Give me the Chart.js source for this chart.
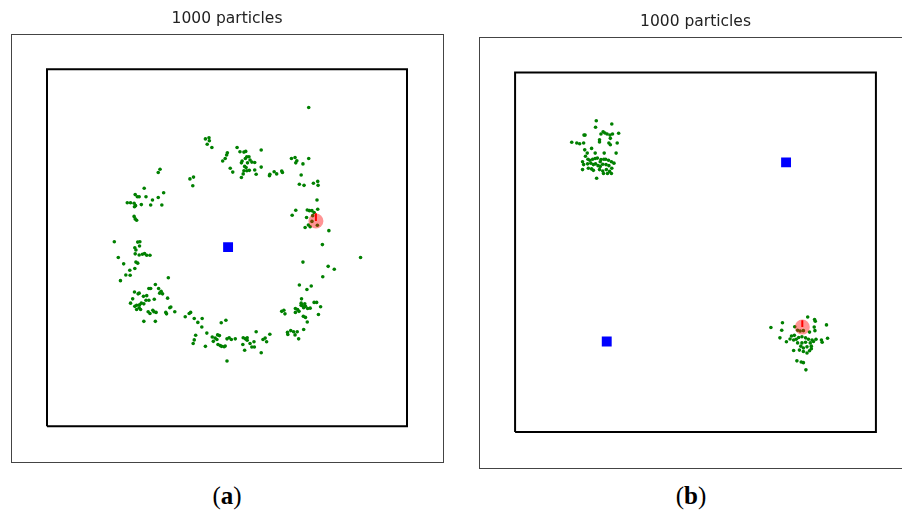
<!DOCTYPE html>
<html lang="en">
<head>
<meta charset="UTF-8">
<title>1000 particles</title>
<script src="https://cdn.jsdelivr.net/npm/chart.js@4/dist/chart.umd.min.js"></script>
<style>
    body { margin: 0; background: #fff; overflow: hidden; width: 902px; height: 513px; position: relative; }
    canvas { position: absolute; }
    #chartA { left: 0px; top: 0px; }
    #chartB { left: 467px; top: 0px; }
    .caption { position: absolute; top: 482px; width: 80px; text-align: center; font-family: "Liberation Serif", "DejaVu Serif", serif; font-size: 25px; color: #000; }
</style>
</head>
<body>
<canvas id="chartA" width="455" height="475"></canvas>
<canvas id="chartB" width="460" height="480"></canvas>
<div class="caption" style="left: 187px;">(<b>a</b>)</div>
<div class="caption" style="left: 651px;">(<b>b</b>)</div>

<script type="text/javascript">
// room walls (metres), same for both panels
var roomX = [0, 10, 10, 0, 0];
var roomY = [0, 0, 10, 10, 0];
var axisMin = -1;
var axisMax = 11;
var titleText = "1000 particles";

// panel (a): one beacon, particles spread on a ring
var beaconsA = [[5.03, 5.02]];
var robotA = [[7.47, 5.75]];
var headingA = [[7.47, 5.75], [7.47, 5.97]];
var particlesA = [
    [7.27,8.93],[4.40,8.05],[4.50,8.08],[4.51,8.00],[4.45,7.90],[4.58,7.81],
    [5.28,7.81],[5.36,7.69],[5.47,7.68],[5.52,7.70],[5.95,7.74],[5.01,7.66],[4.99,7.60],[4.95,7.50],[4.88,7.43],
    [5.09,7.23],[5.16,7.12],[5.40,7.38],[5.42,7.43],[5.51,7.50],[5.55,7.55],[5.61,7.55],[5.64,7.46],[5.57,7.38],
    [5.69,7.40],[5.77,7.39],[5.49,7.28],[5.53,7.25],[5.47,7.16],[5.55,7.16],[5.62,7.17],[5.77,7.18],[5.81,7.06],
    [5.95,7.26],[5.40,6.97],[5.45,7.07],[6.19,7.06],[6.18,7.02],[6.31,7.13],[6.38,7.07],[6.52,7.15],[6.54,7.11],
    [6.79,7.50],[6.89,7.53],[6.94,7.44],[6.91,7.38],[7.11,7.35],[7.27,7.50],[7.06,7.04],[7.01,6.78],[7.14,6.75],
    [7.40,6.81],[7.52,6.86],[7.53,6.75],
    [7.50,6.34],[7.52,6.08],[7.23,6.06],[7.29,6.04],[7.36,6.04],[6.91,6.05],[6.81,5.91],[7.21,5.85],[7.36,5.74],
    [7.38,5.90],[7.51,5.63],[7.31,5.59],[7.17,5.57],[7.26,5.64],[7.83,5.48],[7.42,5.99],[7.65,5.09],[7.11,4.60],
    [7.81,4.48],[7.98,4.40],[8.71,4.73],
    [3.09,7.11],[3.14,7.20],[2.70,6.67],[2.45,6.49],[2.51,6.43],[2.56,6.43],[2.75,6.43],[2.93,6.34],[3.09,6.41],
    [3.24,6.54],[2.23,6.26],[2.32,6.26],[2.42,6.25],[2.46,6.18],[2.43,6.15],[2.62,6.21],[2.88,6.20],[3.19,6.20],
    [2.42,5.88],[2.45,5.81],[2.49,5.77],
    [1.87,5.17],[1.98,4.73],[2.13,4.55],[2.52,5.16],[2.58,5.17],[2.57,5.05],[2.44,5.00],[2.47,4.94],[2.45,4.83],
    [2.56,4.80],[2.65,4.82],[2.71,4.84],[2.77,4.79],[2.86,4.79],[2.47,4.60],[2.52,4.57],[2.44,4.42],
    [3.97,6.93],[4.07,6.98],[4.05,6.74],
    [2.30,4.37],[2.19,4.24],[2.31,4.23],[2.04,4.08],[3.37,4.16],[7.66,4.19],
    [2.43,3.76],[2.56,3.73],[2.53,3.71],[2.83,3.86],[2.88,3.86],[3.01,3.97],[3.10,3.86],[3.17,3.78],[3.13,3.73],
    [3.21,3.71],[2.68,3.64],[2.77,3.66],[2.75,3.53],[2.83,3.53],[2.38,3.57],[2.32,3.45],[2.44,3.36],[2.49,3.39],
    [2.57,3.40],[2.62,3.45],[2.69,3.43],[2.56,3.32],[2.49,3.27],[2.60,3.27],[2.98,3.56],[3.35,3.59],[2.81,3.21],
    [2.94,3.25],[2.97,3.21],[2.86,3.16],[3.03,3.19],[3.30,3.19],[3.32,3.15],[3.41,3.32],[3.44,3.34],[3.55,3.21],
    [2.69,2.94],[3.01,2.94],
    [3.84,3.07],[3.95,3.16],[3.99,3.19],[4.09,3.02],[4.19,2.91],[4.31,3.02],[4.30,2.78],[4.44,2.61],[4.13,2.55],
    [4.09,2.42],[4.06,2.32],[4.40,2.24],[4.84,2.90],[4.97,2.97],[4.59,2.50],[4.67,2.47],[4.62,2.38],[4.72,2.43],
    [4.74,2.56],[4.79,2.54],[4.75,2.29],[4.81,2.26],[4.85,2.24],[4.92,2.23],[4.95,2.25],[5.00,2.45],[5.06,2.48],
    [5.12,2.43],[5.23,2.45],[5.00,1.83],[5.45,2.48],[5.51,2.45],[5.56,2.48],[5.56,2.41],[5.44,2.29],[5.49,2.13],
    [5.64,2.32],[5.69,2.22],[5.75,2.37],[5.76,2.22],[5.81,2.65],[6.00,2.43],[6.06,2.47],[6.19,2.58],[6.10,2.37],
    [5.95,2.06],
    [6.52,3.22],[6.58,3.25],[6.61,3.15],[6.68,2.63],[6.69,2.57],[6.77,2.68],[6.85,2.65],[6.89,2.56],[6.95,2.65],
    [6.99,2.45],[7.13,2.71],[6.90,3.30],[6.90,3.19],[7.01,3.96],[7.07,3.57],[7.06,3.45],[7.06,3.39],[7.09,3.38],
    [7.13,3.32],[7.18,3.36],[7.16,3.43],[7.24,3.30],[7.31,3.31],[7.22,3.83],[7.34,3.93],[7.42,3.47],[7.49,3.47],
    [6.96,3.27],[7.00,3.22],[7.12,3.08],[7.18,3.05],[7.23,2.92],[7.54,3.13],[7.60,3.35]
];

// panel (b): two beacons, particles in two clusters
var beaconsB = [[7.51, 7.50], [2.54, 2.52]];
var robotB = [[7.96, 2.92]];
var headingB = [[7.96, 2.92], [7.96, 3.11]];
var particlesB = [
    [2.25,8.66],[2.68,8.57],[2.23,8.48],[2.44,8.35],[2.49,8.32],[2.55,8.29],[2.63,8.26],[2.70,8.29],[2.87,8.31],
    [1.91,8.26],[1.94,8.26],[2.38,8.29],[2.34,8.13],[2.34,8.07],[2.64,8.17],[2.60,8.04],[2.64,7.99],[2.83,8.04],
    [1.57,8.06],[1.71,8.04],[1.79,8.02],[1.90,8.04],[2.12,7.89],[1.93,7.85],[2.00,7.76],[2.22,7.76],[2.47,7.76],
    [2.80,7.76],[1.95,7.67],[2.02,7.59],[2.07,7.56],[2.15,7.59],[2.22,7.61],[2.28,7.62],[2.38,7.58],[2.46,7.59],
    [2.51,7.59],[2.59,7.56],[2.67,7.52],[2.74,7.48],[1.87,7.52],[1.90,7.44],[2.01,7.46],[2.10,7.48],[2.17,7.44],
    [2.23,7.46],[2.30,7.41],[2.36,7.52],[2.43,7.45],[2.52,7.44],[2.60,7.41],[2.68,7.34],[2.03,7.34],[2.12,7.32],
    [2.34,7.30],[2.43,7.26],[2.53,7.30],[2.62,7.25],[2.67,7.19],[1.87,7.30],[2.45,7.19],[2.26,7.06],[2.56,7.19],
    [2.36,7.39],[2.17,7.28],
    [8.11,3.20],[8.30,3.13],[8.32,3.08],[7.41,3.04],[8.63,2.98],[7.09,2.91],[7.39,2.83],[8.29,2.92],[8.31,2.82],
    [8.16,2.78],[7.34,2.62],[7.52,2.51],[7.66,2.67],[7.74,2.69],[7.62,2.59],[7.72,2.56],[7.79,2.58],[7.86,2.63],
    [7.95,2.65],[8.05,2.62],[8.13,2.58],[8.23,2.56],[8.34,2.58],[8.49,2.56],[8.51,2.50],[8.66,2.61],[7.83,2.48],
    [7.95,2.48],[8.05,2.50],[8.18,2.48],[8.27,2.52],[7.92,2.39],[7.99,2.34],[8.09,2.37],[8.21,2.39],[7.72,2.27],
    [7.88,2.28],[7.99,2.24],[8.09,2.20],[8.16,2.26],[8.21,2.32],[7.81,1.98],[7.93,1.95],[7.99,1.93],[8.06,1.73],
    [7.83,2.83],[7.90,2.81],[7.99,2.82],[7.75,2.93]
];

function toPoints(list) {
    var out = [];
    for (var i = 0; i < list.length; i++) {
        out.push({x: list[i][0], y: list[i][1]});
    }
    return out;
}

function roomPoints() {
    var out = [];
    for (var i = 0; i < roomX.length; i++) {
        out.push({x: roomX[i], y: roomY[i]});
    }
    return out;
}

// outer frame round the plot area, like the matplotlib axes box
var framePlugin = {
    id: 'frame',
    afterDraw: function(chart) {
        var a = chart.chartArea;
        var ctx = chart.ctx;
        ctx.save();
        ctx.strokeStyle = '#444444';
        ctx.lineWidth = 1;
        ctx.strokeRect(Math.round(a.left) + 0.5, Math.round(a.top) + 0.5, Math.round(a.right - a.left), Math.round(a.bottom - a.top));
        ctx.restore();
    }
};

function makeChart(id, particles, beacons, robot, heading, pad) {
    var config = {
        type: 'scatter',
        data: {
            datasets: [
                { label: 'heading', data: toPoints(heading), showLine: true, borderColor: '#ff0000', borderWidth: 2, pointRadius: 0, order: 0 },
                { label: 'robot', data: toPoints(robot), backgroundColor: 'rgba(255,0,0,0.42)', borderWidth: 0, pointRadius: 7.5, order: 1 },
                { label: 'beacons', data: toPoints(beacons), pointStyle: 'rect', backgroundColor: '#0000ff', borderWidth: 0, pointRadius: 7, order: 2 },
                { label: 'particles', data: toPoints(particles), backgroundColor: '#008000', borderWidth: 0, pointRadius: 1.8, order: 3 },
                { label: 'room', data: roomPoints(), showLine: true, borderColor: '#000000', borderWidth: 2, pointRadius: 0, order: 4 }
            ]
        },
        options: {
            responsive: false,
            animation: false,
            events: [],
            layout: { padding: pad },
            scales: {
                x: { type: 'linear', min: axisMin, max: axisMax, display: false },
                y: { type: 'linear', min: axisMin, max: axisMax, display: false }
            },
            plugins: {
                legend: { display: false },
                tooltip: { enabled: false },
                title: {
                    display: true,
                    text: titleText,
                    color: '#222222',
                    font: { family: 'DejaVu Sans', size: 15.5, weight: 'normal' },
                    padding: { top: 0, bottom: 5 }
                }
            }
        },
        plugins: [framePlugin]
    };
    return new Chart(document.getElementById(id), config);
}

makeChart('chartA', particlesA, beaconsA, robotA, headingA, { left: 11, right: 12, top: 10, bottom: 13 });
makeChart('chartB', particlesB, beaconsB, robotB, headingB, { left: 12, right: 15, top: 13, bottom: 12 });
</script>
</body>
</html>
